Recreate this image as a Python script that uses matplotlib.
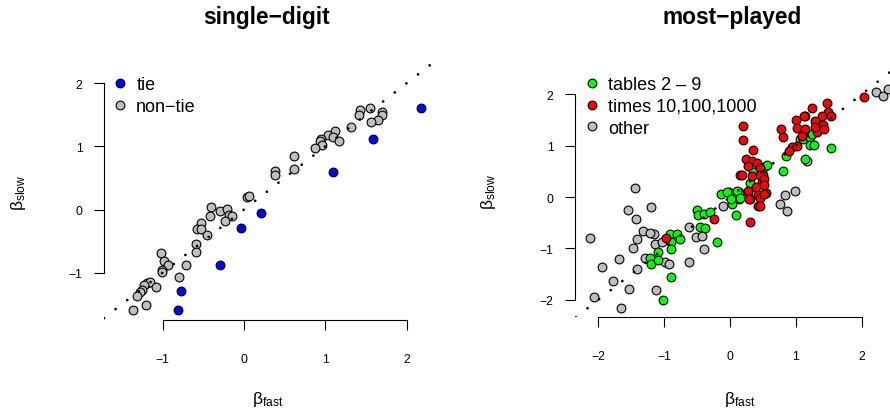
import matplotlib
matplotlib.use("Agg")
import matplotlib.pyplot as plt
from matplotlib.lines import Line2D

plt.rcParams['font.family'] = ['Liberation Sans', 'DejaVu Sans']
plt.rcParams['mathtext.fontset'] = 'custom'
plt.rcParams['mathtext.rm'] = 'Liberation Sans'
plt.rcParams['mathtext.it'] = 'Liberation Sans'

# ---- single-digit panel ----
tie_fast = [2.17, 1.58, 1.10, 0.215, -0.04, -0.29, -0.77, -0.81]
tie_slow = [1.60, 1.12, 0.60, -0.05, -0.30, -0.88, -1.29, -1.59]

nontie_fast = [1.42, 1.55, 1.70, 1.69, 1.65, 1.56, 1.41, 1.31, 1.12, 1.03, 0.95, 0.93,
               1.09, 1.17, 0.96, 0.87, 0.61, 0.62, 0.38, 0.38, 0.04, 0.06, -0.41, -0.29,
               -0.21, -0.42, -0.18, -0.15, -0.23, -0.53, -0.58, -0.53, -0.45, -0.59, -0.59,
               -1.02, -0.98, -0.93, -1.01, -1.01, -0.71, -0.80, -1.19, -1.15, -1.08, -1.23,
               -1.25, -1.28, -1.31, -1.20, -1.36]
nontie_slow = [1.57, 1.60, 1.55, 1.50, 1.41, 1.39, 1.49, 1.31, 1.25, 1.18, 1.12, 1.09,
               1.15, 1.09, 1.02, 0.98, 0.85, 0.64, 0.61, 0.54, 0.20, 0.21, 0.04, -0.03,
               0.015, -0.10, -0.09, -0.10, -0.18, -0.21, -0.31, -0.31, -0.40, -0.55, -0.67,
               -0.69, -0.82, -0.87, -0.95, -0.99, -0.87, -1.06, -1.16, -1.15, -1.22, -1.19,
               -1.27, -1.31, -1.37, -1.51, -1.59]

# ---- most-played panel ----
tables_fast = [-0.91, -0.80, -0.76, -0.89, -0.90, -1.10, -1.22, -1.20, -1.09, -0.90, -1.02,
               -0.50, -0.48, -0.40, -0.30, -0.45, -0.38, -0.20, 0.09, -0.13, -0.01, 0.13,
               0.14, 0.03, 0.28, 0.30, 0.35, 0.81, 0.51, 0.56, 1.14, 1.06, 1.17, -0.05,
               0.02, 0.10, 0.15, 0.85, 1.11, 1.22, 1.21, 1.28, 1.54, 1.24]
tables_slow = [-0.72, -0.71, -0.82, -0.87, -1.02, -1.06, -1.19, -1.30, -1.22, -1.55, -2.00,
               -0.25, -0.35, -0.33, -0.29, -0.59, -0.61, -0.87, -0.35, 0.06, 0.09, 0.09,
               -0.04, -0.14, 0.10, 0.27, 0.48, 0.51, 0.58, 0.62, 0.74, 1.13, 1.16, 0.09,
               -0.04, 0.12, -0.01, 0.80, 1.13, 1.16, 1.01, 1.01, 0.95, 1.23]

times_fast = [-0.97, -0.25, 0.15, 0.31, 0.43, 0.55, 0.43, 0.31, 0.48, 0.50,
              0.20, 0.19, 0.35, 0.25, 0.33, 0.41, 0.45, 0.28, 0.18, 0.34, 0.46, 0.51,
              0.51, 0.39, 0.28, 0.29, 0.45, 0.51, 0.45, 0.78, 0.81, 1.00, 1.02, 1.14,
              1.14, 0.94, 1.01, 0.89, 2.035, 1.24, 1.48, 1.49, 1.53, 1.39, 1.41, 1.29,
              1.12, 1.09, 1.32, 1.29, 1.43]
times_slow = [-0.80, -0.43, 0.43, -0.04, 0.03, 0.08, -0.17, -0.49, 0.29, 0.43,
              1.39, 1.11, 0.91, 0.74, 0.71, 0.67, 0.56, 0.60, 0.42, 0.40, 0.42, 0.35,
              0.23, 0.19, 0.12, -0.03, -0.01, 0.06, -0.17, 1.32, 1.16, 1.49, 1.34, 1.58,
              1.32, 0.97, 1.00, 0.90, 1.94, 1.74, 1.82, 1.66, 1.58, 1.57, 1.41, 1.48,
              1.57, 1.19, 1.26, 1.36, 1.32]

other_fast = [-1.44, -1.55, -1.20, -1.43, -2.13, -1.32, -1.42, -1.47, -1.68, -1.95, -1.77,
              -1.53, -2.07, -1.66, -1.16, -1.14, -1.04, -1.29, -1.42, -1.12, -0.99, -0.92,
              -0.63, -0.52, -0.63, -1.22, -0.42, -0.40, -0.10, 0.76, 0.84, 0.87, 0.99,
              1.17, 2.22, 2.33, 2.40]
other_slow = [0.17, -0.25, -0.20, -0.43, -0.80, -0.66, -0.82, -1.00, -1.21, -1.37, -1.63,
              -1.79, -1.95, -2.15, -0.72, -0.91, -0.88, -1.19, -1.40, -1.80, -1.27, -1.31,
              -0.59, -0.78, -1.26, -0.70, -0.75, -1.01, -0.18, -0.14, 0.04, -0.28, 0.11,
              0.71, 2.04, 1.96, 2.11]

W, H = 890, 414
fig = plt.figure(figsize=(W / 100, H / 100), dpi=100)


def px_axes(x0, y_top, w, h):
    # pixel box -> figure fraction
    return fig.add_axes([x0 / W, 1 - (y_top + h) / H, w / W, h / H])


def style_axes(ax, ticks):
    for s in ['top', 'right']:
        ax.spines[s].set_visible(False)
    ax.spines['left'].set_bounds(ticks[0], ticks[-1])
    ax.spines['bottom'].set_bounds(ticks[0], ticks[-1])
    ax.spines['left'].set_linewidth(0.8)
    ax.spines['bottom'].set_linewidth(0.8)
    ax.set_xticks(ticks)
    ax.set_yticks(ticks)
    lab = [str(t).replace('-', '\u2212') for t in ticks]
    ax.set_xticklabels(lab)
    ax.set_yticklabels(lab)
    ax.tick_params(axis='both', direction='out', length=7.5, width=0.8, labelsize=8.8)
    ax.tick_params(axis='x', pad=16)
    ax.tick_params(axis='y', pad=8)
    ax.patch.set_visible(False)


def diag(ax):
    ax.axline((0, 0), slope=1, color='black', lw=2.0,
              linestyle=(0, (0.001, 5.3)), dash_capstyle='round', zorder=5)


pt_kw = dict(s=40, edgecolors='black', linewidths=0.8, zorder=3)

# left panel
ax1 = px_axes(104, 63.9, 328.8, 257.1)
ax1.set_xlim(-1.719, 2.32)
ax1.set_ylim(-1.748, 2.32)
ax1.scatter(nontie_fast, nontie_slow, c='#BEBEBE', **pt_kw)
ax1.scatter(tie_fast, tie_slow, c='#0000FF', **pt_kw)
diag(ax1)
style_axes(ax1, [-1, 0, 1, 2])

# right panel
ax2 = px_axes(575, 65.4, 324.9, 252.9)
ax2.set_xlim(-2.354, 2.58)
ax2.set_ylim(-2.34, 2.58)
ax2.scatter(other_fast, other_slow, c='#BEBEBE', **pt_kw)
ax2.scatter(tables_fast, tables_slow, c='#00FF00', **pt_kw)
ax2.scatter(times_fast, times_slow, c='#FF0000', **pt_kw)
diag(ax2)
style_axes(ax2, [-2, -1, 0, 1, 2])


def handle(color, label):
    return Line2D([], [], linestyle='none', marker='o', markersize=6.3,
                  markerfacecolor=color, markeredgecolor='black',
                  markeredgewidth=0.8, label=label)


leg_kw = dict(loc='upper left', frameon=False, fontsize=13, handlelength=1.0,
              handletextpad=0.4, borderpad=0, borderaxespad=0,
              labelspacing=0.27, bbox_transform=fig.transFigure)
ax1.legend(handles=[handle('#0000FF', 'tie'), handle('#BEBEBE', 'non\u2212tie')],
           bbox_to_anchor=(111 / W, 1 - 77 / H), **leg_kw)
ax2.legend(handles=[handle('#00FF00', 'tables 2 \u2013 9'),
                    handle('#FF0000', 'times 10,100,1000'),
                    handle('#BEBEBE', 'other')],
           bbox_to_anchor=(582.5 / W, 1 - 77 / H), **leg_kw)

# titles and axis labels
title_kw = dict(ha='center', va='baseline', fontsize=16.4, fontweight='bold')
fig.text(267 / W, 1 - 24 / H, 'single\u2212digit', **title_kw)
fig.text(732 / W, 1 - 24 / H, 'most\u2212played', **title_kw)

xl = r'$\mathrm{\beta}_{\mathrm{fast}}$'
yl = r'$\mathrm{\beta}_{\mathrm{slow}}$'
fig.text(268 / W, 1 - 400 / H, xl, ha='center', va='center', fontsize=12.5)
fig.text(740 / W, 1 - 400 / H, xl, ha='center', va='center', fontsize=12.5)
fig.text(18 / W, 1 - 193 / H, yl, ha='center', va='center', rotation=90, fontsize=12.5)
fig.text(489 / W, 1 - 192 / H, yl, ha='center', va='center', rotation=90, fontsize=12.5)

fig.savefig('out.png', dpi=100)
